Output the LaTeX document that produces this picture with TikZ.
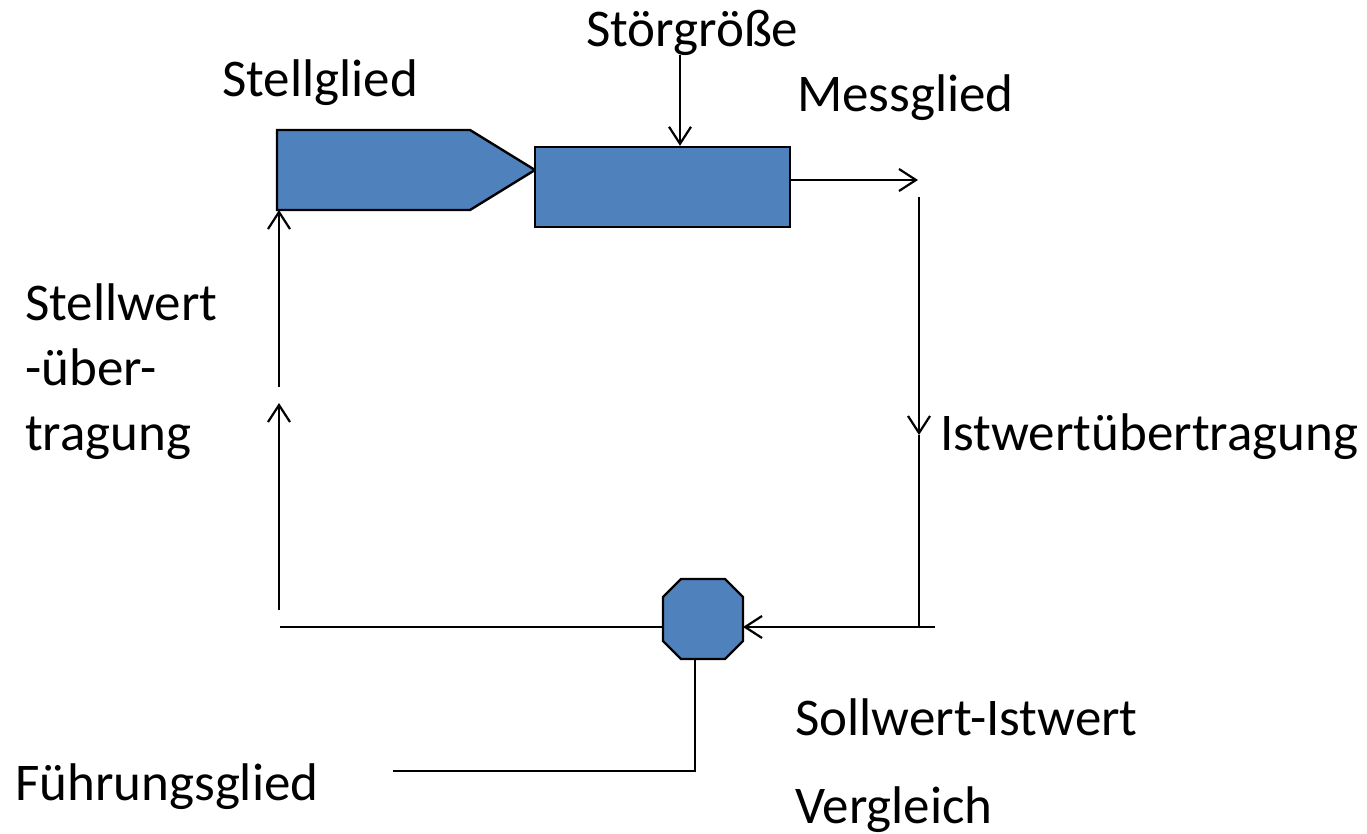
\documentclass[tikz,border=0pt]{standalone}
\usepackage{fontspec}
\setmainfont{Carlito}
\usetikzlibrary{arrows.meta}
\definecolor{boxblue}{HTML}{4F81BD}
\tikzset{
  blk/.style={draw=black, line width=2.4pt, fill=boxblue},
  wire/.style={line width=2.2pt},
  arr/.style={wire, -{Straight Barb[length=17pt,width=22pt]}},
  lbl/.style={anchor=base west, inner sep=0pt, font=\fontsize{53}{65}\selectfont},
}
\begin{document}
\begin{tikzpicture}[x=1pt, y=-1pt]
\useasboundingbox (0,0) rectangle (1367,834);
% blocks
\draw[blk] (277,130) -- (470,130) -- (535,170) -- (470,210) -- (277,210) -- cycle;
\coordinate (sgbl) at (277,210);
\node[blk, minimum width=255pt, minimum height=80pt, inner sep=0pt] (strecke) at (662.5,187) {};
\coordinate (vgl) at (703,619);
\draw[blk] (681,579) -- (725,579) -- (743,597) -- (743,641) -- (725,659) -- (681,659) -- (663,641) -- (663,597) -- cycle;
\coordinate (vgle) at (743,627);
\coordinate (vglw) at (663,627);
\coordinate (vgls) at (695,659);
% labels
\node[lbl] (stellglied) at (222,97) {Stellglied};
\node[lbl] (stoer) at (586,47) {Störgröße};
\node[lbl] (messglied) at (797,112) {Messglied};
\node[lbl] (sw1) at (25,320) {Stellwert};
\node[lbl] (sw2) at (25,385) {-über-};
\node[lbl] (sw3) at (25,450) {tragung};
\node[lbl] (istw) at (940,450) {Istwertübertragung};
\node[lbl] (soll) at (795,735) {Sollwert-Istwert};
\node[lbl] (vergl) at (795,823) {Vergleich};
\node[lbl] (fuehr) at (15,800) {Führungsglied};
% connectors
\coordinate (stoerin) at (680,55);
\draw[arr] (stoerin) -- (stoerin |- strecke.north);
\coordinate (mess) at (918,180);
\draw[arr] (strecke.east |- mess) -- (mess);
\coordinate (rtop) at (919,197);
\coordinate (rmid) at (919,435);
\coordinate (rbot) at (919,627);
\coordinate (rend) at (935,627);
\draw[arr] (rtop) -- (rmid);
\draw[wire] (rmid) -- (rbot);
\draw[arr] (rend) -- (vgle);
\coordinate (lbot) at (280,627);
\draw[wire] (vglw) -- (lbot);
\coordinate (l1) at (279,610);
\coordinate (l2) at (279,403);
\coordinate (l3) at (279,387);
\draw[arr] (l1) -- (l2);
\draw[arr] (l3) -- (sgbl -| l3);
\coordinate (fstart) at (393,771);
\draw[wire] (fstart) -- (fstart -| vgls) -- (vgls);
\end{tikzpicture}
\end{document}
